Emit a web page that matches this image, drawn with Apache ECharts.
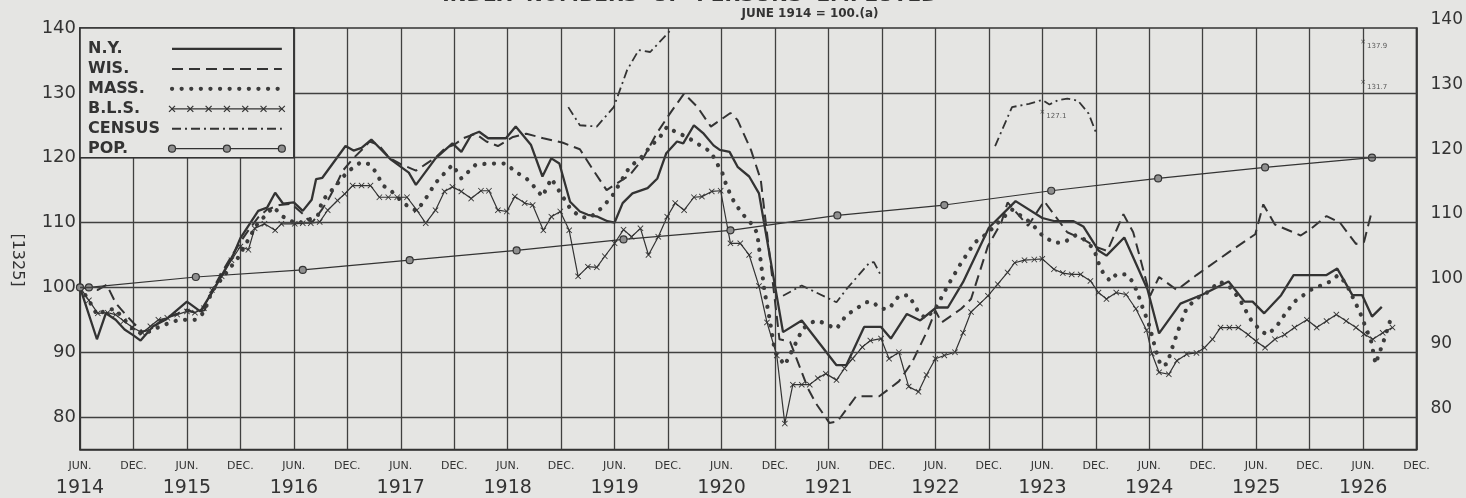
<!DOCTYPE html>
<html>
<head>
<meta charset="utf-8">
<script src="https://cdn.jsdelivr.net/npm/echarts@6/dist/echarts.min.js"></script>
<style>
  html, body { margin: 0; padding: 0; background: #e5e5e3; }
  #chart { width: 1466px; height: 498px; }
</style>
</head>
<body>
<div id="chart"></div>
<script>
// months counted from June 1914 (0) to December 1926 (150)
var tickMonths = ['JUN.', 'DEC.'];
var yearLabels = ['1914','1915','1916','1917','1918','1919','1920','1921','1922','1923','1924','1925','1926'];
var gridValues = [80, 90, 100, 110, 120, 130];
var legendNames = ['N.Y.', 'WIS.', 'MASS.', 'B.L.S.', 'CENSUS', 'POP.'];

var nyData = [[0,100],[1.9,92],[2.9,96],[4,95],[5,93.5],[6,92.6],[6.8,91.8],[8.2,94],[9.7,95.1],[12,97.8],[13.5,96.3],[15,99.6],[17.3,105.3],[18,107.6],[20,111.8],[21,112.3],[21.9,114.6],[22.8,112.9],[24,113.1],[25,111.8],[26,113.5],[26.5,116.7],[27.2,116.9],[29.8,121.8],[30.7,121.1],[31.6,121.5],[32.7,122.8],[34.9,119.7],[36.9,117.7],[37.7,115.8],[39.9,119.9],[41.8,122.2],[42.8,120.9],[43.9,123.5],[44.8,124],[45.8,123],[47.8,123],[48.9,124.8],[50.6,122],[51.9,117.1],[52.9,119.9],[53.8,119.1],[55,113.2],[56.1,111.7],[57,111.2],[58.1,110.9],[59.2,110.2],[60,110],[60.9,113],[62,114.5],[63.7,115.3],[64.8,116.8],[65.8,120.7],[67,122.5],[67.7,122.2],[68.9,125],[70,123.7],[71.1,121.9],[71.8,121.2],[72.9,120.9],[73.8,118.6],[75.1,117.1],[76.2,114.5],[78.9,93.1],[81,94.9],[84.9,88],[86,88],[88,93.9],[89.9,93.9],[91,92.1],[92.8,95.9],[94.3,94.9],[96.1,96.9],[97.4,96.9],[99.1,100.8],[102,109.2],[105,113.3],[108,110.7],[109.4,110.2],[111.5,110.2],[112.6,109.4],[114.3,105.7],[115.2,104.9],[117.2,107.7],[119.8,99.7],[121.1,92.9],[123.5,97.5],[126,98.9],[128.9,100.9],[130.7,97.8],[131.6,97.8],[132.9,96],[134.8,98.8],[136.2,101.9],[139.9,101.9],[141.1,102.9],[142.8,98.8],[143.9,98.8],[145,95.5],[146.1,97]];

var wisData = [[0,100],[1,99.8],[2,99.6],[3,100.4],[4,97.6],[5,96],[6,94.5],[7,93.2],[8,93.5],[9,94.8],[10,95.5],[11,96],[12,96.6],[13,96],[14,96.5],[15,100],[16,102.5],[17,104.8],[18,107],[19,109],[20,110.8],[21,112],[22.4,112.7],[23.7,112.9],[25.2,111.1],[25.6,110.4],[26.1,110.1],[27.1,111.9],[27.8,113.4],[28.7,115.7],[29.5,118],[30.6,119.8],[31.7,121.3],[32.5,122.5],[33.5,122],[34.7,120],[36,119],[37.7,118],[38.8,119],[39.9,120],[41,121.5],[42,122],[43,123],[44.4,123.7],[45.6,122.5],[46.9,121.8],[48.6,123.2],[50.1,123.7],[52,123],[54.2,122.3],[56.1,121.3],[57.6,118.1],[59.1,115],[60.2,116],[61.7,117.3],[63.2,119.9],[64.7,123.7],[66.2,126.8],[67.8,129.9],[69.3,127.8],[70.8,124.8],[73,126.9],[73.8,125.8],[75.3,121.2],[76.4,116.6],[78.5,92],[79.7,91.6],[81.7,84.4],[82.6,82.1],[84.1,79.1],[85,79.3],[87.1,83.2],[89.7,83.2],[91.9,85.5],[93.4,88.5],[95.2,93.6],[96,96.4],[96.7,94.6],[98.9,96.7],[100,98.2],[101.9,106.4],[103.4,110],[104.1,113.1],[106.4,109.5],[108.2,113.3],[110.8,108.5],[112.6,107.4],[114.1,106.2],[115.3,105.6],[117.1,111.3],[118.2,108.5],[119,104.4],[120.1,98.7],[121.1,101.6],[123.1,99.6],[125.3,101.9],[128.9,105.4],[131.9,108.2],[132.8,112.8],[134.1,109.7],[137,108],[138.1,109],[139.9,111],[141.4,110],[143.2,106.7],[144.1,107],[144.9,111.3]];

var massData = [[0,100],[1,98],[1.9,95.8],[3,96.5],[3.9,96.7],[5,95],[6,93.5],[7,92.8],[8,93.3],[9,94],[10,94.5],[11.1,95],[12,95],[12.9,95],[13.9,96.1],[14.8,99.4],[16,101.5],[17.8,104.7],[19.8,109.6],[21.7,112.4],[22.8,110.9],[24.3,109.8],[25.6,110.4],[26.7,111.1],[27.2,113.4],[28.6,115.5],[30,117.8],[31.5,119.3],[32.5,119],[33.2,117.8],[34,115.7],[34.9,114.9],[36,113.4],[36.9,112.4],[37.8,111.8],[38.8,113.7],[39.9,116.1],[40.9,117.6],[41.8,118.9],[42.8,116.8],[44.4,118.9],[45.8,119.1],[47.8,119.1],[48.9,117.8],[50.1,116.8],[50.8,115.8],[51.9,114],[52.9,116.8],[53.8,114.8],[55,112.2],[56.1,110.9],[57.2,110.7],[58.5,112.2],[59.7,114],[60.6,116.1],[61.7,118.6],[62.9,119.9],[64,121.7],[65.1,123.2],[65.9,124.8],[66.8,124],[68.1,123.2],[69.6,121.9],[70.8,120.9],[71.5,119.1],[72.1,117.6],[72.6,115.5],[73.4,113.2],[74.3,111.4],[75.3,109.9],[76,108.4],[76.8,99.6],[77.4,95.1],[78,90],[79.1,88],[80.4,91.6],[81.1,93.6],[82.1,94.6],[82.8,94.9],[84.9,93.6],[86,95.7],[87.1,96.7],[88.2,97.7],[88.9,97.8],[89.9,96.7],[90.8,96.7],[91.9,98.7],[93,98.8],[94.1,96.2],[94.9,95.2],[96,96.7],[97.4,100.3],[98.9,103.8],[100.4,106.9],[101.9,108.4],[103.4,110.5],[104.6,112],[106.7,110],[108,108],[109.3,106.9],[110.4,106.9],[111.7,108],[112.6,107.5],[113.8,105.9],[114.3,103.8],[114.8,102.3],[115.6,101],[116.3,102],[117.4,102],[118.2,100.8],[118.8,98.7],[119.3,96.7],[119.9,94.6],[120.3,92.6],[120.7,90.5],[121.3,87.9],[122,88.2],[122.7,91.2],[123.5,94.3],[124.2,96.8],[125.3,98.3],[126.4,99.1],[127.9,100.9],[129,100.1],[130.1,98.3],[130.8,96.5],[131.5,94.8],[132.6,93.2],[133.3,92.7],[134.3,94],[135.2,95.8],[136.3,97.8],[138.1,99.6],[140.3,100.9],[141.2,101.9],[142.1,100.6],[143.6,96.3],[144.9,91.7],[145.4,88.2],[146.3,91.7],[147.3,96]];

var blsData = [[0,100],[1,98],[2,96],[3.1,96.1],[4,95.8],[4.9,94.8],[5.9,93.8],[7,93],[7.9,94],[8.8,95],[9.8,95.3],[10.9,95.8],[12,96.3],[12.9,96.1],[13.9,96.8],[14.8,99.6],[15.9,101.7],[17,104.2],[18,106.3],[18.9,105.8],[19.6,109.1],[20.7,109.8],[21.9,108.8],[22.6,109.8],[24.1,109.8],[25,109.9],[25.9,109.9],[26.9,110.1],[27.8,111.9],[28.9,113.4],[29.7,114.4],[30.6,115.7],[31.6,115.7],[32.6,115.7],[33.6,113.9],[34.6,113.9],[35.6,113.9],[36.7,113.9],[37.8,111.9],[38.8,109.9],[39.9,111.9],[40.9,114.8],[41.8,115.5],[42.8,114.8],[43.9,113.7],[45,114.9],[45.9,114.9],[46.9,111.9],[47.9,111.7],[48.8,114],[49.9,113],[50.8,112.7],[52,108.8],[52.9,110.9],[53.9,111.7],[54.9,108.8],[55.9,101.7],[57,103.2],[58,103.1],[58.9,104.8],[60,106.8],[61,108.9],[61.9,107.8],[62.9,109.1],[63.8,105],[64.9,107.8],[65.9,110.9],[66.8,113],[67.8,111.9],[68.9,113.9],[69.8,114],[70.9,114.8],[71.9,114.9],[73,106.8],[74.1,106.8],[75.1,105],[76.2,100.2],[77.1,94.6],[78.2,89.5],[79.1,79],[80,85],[81,85],[81.9,85],[82.8,86],[83.7,86.7],[84.9,85.7],[85.8,87.5],[86.7,89],[87.8,90.8],[88.7,91.8],[89.9,92.1],[90.8,89],[91.9,90],[93,84.7],[94.1,83.9],[95,86.5],[96,89],[97,89.5],[98.2,90],[99.1,93],[100,96.2],[101,97.5],[101.9,98.7],[103,100.5],[104.1,102.3],[104.9,103.8],[106,104.2],[107.1,104.3],[108,104.4],[109.3,102.8],[110.3,102.2],[111.3,102],[112.3,102],[113.4,101],[114.3,99.2],[115.2,98.2],[116.3,99.2],[117.4,98.9],[118.5,96.7],[119.7,93.4],[120.3,89.8],[121.1,86.9],[122.2,86.6],[123.1,88.7],[124.2,89.7],[125.3,89.9],[126.2,90.7],[127.1,92],[128,93.8],[129,93.8],[130,93.8],[131.1,92.7],[132,91.7],[133,90.7],[134.1,92],[135.2,92.7],[136.3,93.8],[137.7,95],[138.8,93.8],[139.9,94.8],[141,95.8],[142.1,94.8],[143.2,93.8],[144.1,92.8],[145.1,92],[146.2,93],[147.3,93.8]];

var census1919 = [[54.8,127.8],[56.1,125],[58,124.8],[59.9,127.8],[61.4,133.5],[62.7,136.6],[64,136.3],[65.9,139.1],[66.4,139.9]];
var census1921 = [[78.9,98.7],[81,100.3],[84.9,97.7],[86,99.7],[88.6,103.8],[89.1,103.9],[89.9,101.8]];
var census1923 = [[102.7,121.8],[104.6,127.8],[106.5,128.3],[108,128.9],[108.8,128.2],[109.8,128.9],[110.8,129.1],[112,128.8],[113.2,126.8],[114.1,123.6]];

var popData = [[0,100],[1,100],[13,101.6],[25,102.7],[37,104.2],[49,105.7],[61,107.4],[73,108.8],[85,111.1],[97,112.7],[109,114.9],[121,116.8],[133,118.5],[145,120]];

var noteData = [[108,127.1],[144,137.9],[144,131.7]];

var bg = '#e5e5e3';
var ink = '#333333';
var font = '"DejaVu Sans", "Liberation Sans", sans-serif';
var crossPath = 'path://M0,1 L1,0 L5,4 L9,0 L10,1 L6,5 L10,9 L9,10 L5,6 L1,10 L0,9 L4,5 Z';

// line looks shared by the series and the hand-drawn key
var looks = {
  'N.Y.':   { width: 2.3, dash: null },
  'WIS.':   { width: 2, dash: [11, 6] },
  'MASS.':  { width: 4.2, dash: [0.1, 9.5], cap: 'round', color: '#3c3c3c' },
  'B.L.S.': { width: 1.2, dash: null, mark: 'cross' },
  'CENSUS': { width: 1.8, dash: [9, 4, 2, 4] },
  'POP.':   { width: 1.2, dash: null, mark: 'circle' }
};

function lineStyleOf(name) {
  var l = looks[name];
  return { color: l.color || ink, width: l.width, type: l.dash || 'solid', cap: l.cap || 'butt' };
}

var chart = echarts.init(document.getElementById('chart'));

function censusSeries(data) {
  return { name: 'CENSUS', type: 'line', data: data, symbol: 'none', lineStyle: lineStyleOf('CENSUS') };
}

var option = {
  backgroundColor: bg,
  animation: false,
  grid: { left: 80, right: 46, top: 28, bottom: 47, show: true, borderColor: ink, borderWidth: 1.6, backgroundColor: 'transparent' },
  xAxis: {
    type: 'value', min: 0, max: 150, interval: 6,
    axisLine: { show: true, lineStyle: { color: ink, width: 1.6 } },
    axisTick: { show: false },
    splitLine: { show: true, lineStyle: { color: '#404040', width: 1.3 } },
    axisLabel: {
      margin: 8, color: ink, showMaxLabel: true, showMinLabel: true,
      formatter: function (v) {
        var i = Math.round(v / 6);
        if (i % 2 === 0) return '{m|' + tickMonths[0] + '}\n{y|' + yearLabels[i / 2] + '}';
        return '{m|' + tickMonths[1] + '}\n{y| }';
      },
      rich: {
        m: { fontFamily: font, fontSize: 11, color: ink, lineHeight: 18 },
        y: { fontFamily: font, fontSize: 19, color: ink, lineHeight: 26 }
      }
    }
  },
  yAxis: [{
    type: 'value', min: 75, max: 140, interval: 5,
    axisLine: { show: true, lineStyle: { color: ink, width: 1.6 } },
    axisTick: { show: false },
    splitLine: { show: false },
    axisLabel: {
      margin: 4, color: ink, fontFamily: font, fontSize: 18,
      formatter: function (v) { return v % 10 === 0 ? String(v) : ''; }
    }
  }, {
    type: 'value', min: 75, max: 140, interval: 5, position: 'right',
    axisLine: { show: true, lineStyle: { color: ink, width: 1.6 } },
    axisTick: { show: false },
    splitLine: { show: false },
    axisLabel: {
      margin: 14, color: ink, fontFamily: font, fontSize: 17, verticalAlign: 'bottom',
      formatter: function (v) { return v % 10 === 0 ? String(v) : ''; }
    }
  }],
  series: [
    { name: 'N.Y.', type: 'line', data: nyData, symbol: 'none', lineStyle: lineStyleOf('N.Y.') },
    { name: 'WIS.', type: 'line', data: wisData, symbol: 'none', lineStyle: lineStyleOf('WIS.') },
    { name: 'MASS.', type: 'line', data: massData, symbol: 'none', lineStyle: lineStyleOf('MASS.') },
    {
      name: 'B.L.S.', type: 'line', data: blsData, symbol: crossPath, symbolSize: 6,
      itemStyle: { color: ink }, lineStyle: lineStyleOf('B.L.S.')
    },
    censusSeries(census1919),
    censusSeries(census1921),
    censusSeries(census1923),
    {
      name: 'POP.', type: 'line', data: popData, symbol: 'circle', symbolSize: 7,
      itemStyle: { color: '#8f8f8f', borderColor: ink, borderWidth: 1.2 },
      lineStyle: lineStyleOf('POP.'),
      markLine: {
        silent: true, symbol: 'none', label: { show: false },
        lineStyle: { color: '#404040', width: 1.3, type: 'solid' },
        data: gridValues.map(function (v) { return { yAxis: v }; })
      }
    },
    {
      name: 'note', type: 'scatter', data: noteData, symbol: crossPath, symbolSize: 4,
      itemStyle: { color: ink },
      label: {
        show: true, position: 'right', distance: 2, offset: [0, 5],
        fontFamily: font, fontSize: 7, color: ink,
        formatter: function (p) { return p.value[1].toFixed(1); }
      }
    }
  ]
};

chart.setOption(option);

// key box sits in the top-left cell block, Jun 1914 - Jun 1916, 120 - 140
var p0 = chart.convertToPixel({ gridIndex: 0 }, [0, 140]);
var p1 = chart.convertToPixel({ gridIndex: 0 }, [24, 120]);
var boxH = p1[1] - p0[1];
var rowH = (boxH - 10) / legendNames.length;
var textX = p0[0] + 8, lineX0 = p0[0] + 92, lineX1 = p1[0] - 12;

var key = [{
  type: 'rect', z: 10,
  shape: { x: p0[0], y: p0[1], width: p1[0] - p0[0], height: boxH },
  style: { fill: bg, stroke: ink, lineWidth: 1.6 }
}];

legendNames.forEach(function (name, i) {
  var cy = p0[1] + 12 + rowH * (i + 0.5) - 1;
  var l = looks[name];
  key.push({
    type: 'text', z: 12, x: textX, y: cy,
    style: { text: name, align: 'left', verticalAlign: 'middle', fontFamily: font, fontSize: 16, fontWeight: 'bold', fill: ink }
  });
  key.push({
    type: 'line', z: 12,
    shape: { x1: lineX0, y1: cy, x2: lineX1, y2: cy },
    style: { stroke: l.color || ink, lineWidth: l.width, lineDash: l.dash || null, lineCap: l.cap || 'butt' }
  });
  if (l.mark === 'cross') {
    for (var x = lineX0; x <= lineX1 + 0.5; x += (lineX1 - lineX0) / 6) {
      key.push({ type: 'line', z: 13, shape: { x1: x - 3, y1: cy - 3, x2: x + 3, y2: cy + 3 }, style: { stroke: ink, lineWidth: 1.2 } });
      key.push({ type: 'line', z: 13, shape: { x1: x - 3, y1: cy + 3, x2: x + 3, y2: cy - 3 }, style: { stroke: ink, lineWidth: 1.2 } });
    }
  }
  if (l.mark === 'circle') {
    [lineX0, (lineX0 + lineX1) / 2, lineX1].forEach(function (x) {
      key.push({ type: 'circle', z: 13, shape: { cx: x, cy: cy, r: 3.5 }, style: { fill: '#8f8f8f', stroke: ink, lineWidth: 1.2 } });
    });
  }
});

key.push(
  {
    type: 'text', x: 690, y: -4, z: 10,
    style: { text: 'INDEX  NUMBERS  OF  PERSONS  EMPLOYED', align: 'center', verticalAlign: 'middle',
             fontFamily: font, fontSize: 20, fontWeight: 'bold', fill: ink }
  },
  {
    type: 'text', x: 810, y: 14, z: 10,
    style: { text: 'JUNE 1914 = 100.(a)', align: 'center', verticalAlign: 'middle',
             fontFamily: font, fontSize: 12, fontWeight: 'bold', fill: ink }
  },
  {
    type: 'text', x: 17, y: 260, rotation: -Math.PI / 2, z: 10,
    style: { text: '[1325]', align: 'center', verticalAlign: 'middle', fontFamily: font, fontSize: 16, fill: ink }
  }
);

chart.setOption({ graphic: key });
</script>
</body>
</html>
